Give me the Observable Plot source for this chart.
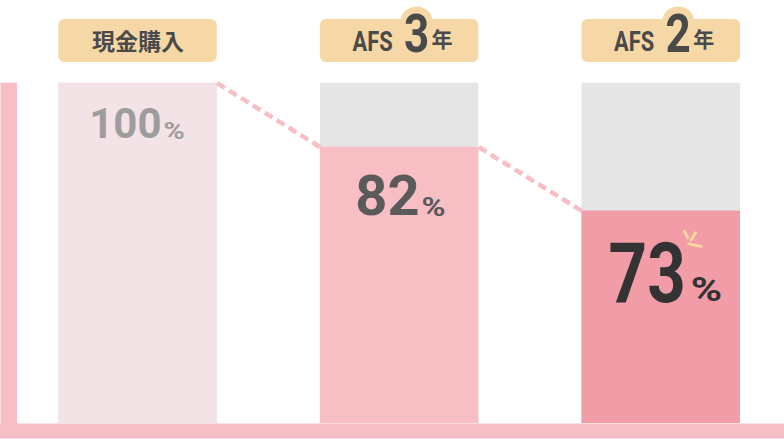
<!DOCTYPE html>
<html>
<head>
<meta charset="utf-8">
<script src="https://cdn.jsdelivr.net/npm/d3@7"></script>
<script src="https://cdn.jsdelivr.net/npm/@observablehq/plot@0.6"></script>
<style>
  html, body { margin: 0; padding: 0; background: #ffffff; }
  #chart svg { display: block; }
</style>
</head>
<body>
<div id="chart"></div>
<script>
// ---- data ----
const categories = ["現金購入", "AFS 3年", "AFS 2年"];
const labelPrefix = ["現金購入", "AFS", "AFS"];
const labelYears = ["", "3", "2"];
const labelUnit = ["", "年", "年"];
const values = [100, 82, 73];
const valueText = ["100", "82", "73"];
const fullValue = 100;

// ---- styles ----
const barColors = ["#f4e3e6", "#f7bec4", "#f29ca8"];
const textColors = ["#9d9d9d", "#5a5a5a", "#333333"];
const numSizes = [42, 56, 84];
const pctSizes = [23, 26, 34];
const numTopGap = [25, 28.3, 31.5];     // px from bar top to cap top
const baseGap = [55.3, 68.3, 90];       // px from bar top to baseline
const numEndDx = [23.5, 20, 24.5];
const pctStartDx = [25.5, 22, 29.5];
const headerFill = "#f5d8a6";
const headerText = "#4a4a4a";
const pink = "#f7bec5";
const sparkle = "#f8d9a0";

const W = 784, H = 440;
const hw = 0.3028;                 // half bar width in category units
const xmin = -0.5256, xmax = 2.4713;

const data = categories.map((c, i) => ({
  i, category: c, prefix: labelPrefix[i], years: labelYears[i], unit: labelUnit[i],
  value: values[i], text: valueText[i]
}));
const segments = data.slice(0, -1).map((d, k) => ({i: d.i, v: d.value, v2: data[k + 1].value}));

const lineShape = {draw(context, l) { context.moveTo(0, 0); context.lineTo(0, -l); }};

const marks = [
  // header boxes
  Plot.rect(data, {x1: d => d.i - hw, x2: d => d.i + hw, fill: headerFill, rx: 6, insetTop: 19, insetBottom: H - 62}),
  Plot.dot(data.filter(d => d.years), {x: "i", frameAnchor: "top", dx: 17, dy: 22.5, r: 16.5, fill: headerFill}),
  // header texts
  Plot.text(data.filter(d => !d.years), {x: "i", text: "prefix", frameAnchor: "top", dy: 49, lineAnchor: "bottom",
    fontFamily: "'Noto Sans CJK JP', sans-serif", fontWeight: 700, fontSize: 23, fill: headerText}),
  Plot.text(data.filter(d => d.years), {x: "i", text: "prefix", frameAnchor: "top", dx: 17 - 24, dy: 50, lineAnchor: "bottom",
    textAnchor: "end", fontFamily: "Roboto, sans-serif", fontWeight: 700, fontSize: 28, fill: headerText}),
  Plot.text(data.filter(d => d.years), {x: "i", text: "years", frameAnchor: "top", dx: 17, dy: 51, lineAnchor: "bottom",
    fontFamily: "Roboto, sans-serif", fontWeight: 700, fontSize: 53, fill: headerText}),
  Plot.text(data.filter(d => d.years), {x: "i", text: "unit", frameAnchor: "top", dx: 17 + 15, dy: 46, lineAnchor: "bottom",
    textAnchor: "start", fontFamily: "'Noto Sans CJK JP', sans-serif", fontWeight: 700, fontSize: 21, fill: headerText}),
  // grey full bars
  Plot.rectY(data, {x1: d => d.i - hw, x2: d => d.i + hw, y1: 0, y2: fullValue, fill: "#e5e5e5"}),
  // value bars
  Plot.rectY(data, {x1: d => d.i - hw, x2: d => d.i + hw, y1: 0, y2: "value", fill: d => barColors[d.i]}),
  // dashed connectors
  Plot.link(segments, {x1: d => d.i + hw, y1: "v", x2: d => d.i + 1 - hw, y2: "v2",
    stroke: pink, strokeWidth: 4.5, strokeDasharray: "9,5"}),
  // axes bars
  Plot.ruleY([0], {stroke: pink, strokeWidth: 15, dy: 7.5}),
  Plot.ruleX([xmin], {y1: fullValue, y2: 0, dx: 8.25, stroke: pink, strokeWidth: 16.5, insetBottom: -15}),
];

// value labels, one per bar (each has its own size)
data.forEach((d, k) => {
  marks.push(Plot.text([d], {x: "i", y: "value", text: "text", lineAnchor: "top", textAnchor: "end",
    dx: numEndDx[k], dy: numTopGap[k], fontFamily: "Roboto, sans-serif", fontWeight: 700,
    fontSize: numSizes[k], fill: textColors[k]}));
  marks.push(Plot.text([d], {x: "i", y: "value", text: () => "%", lineAnchor: "bottom", textAnchor: "start",
    dx: pctStartDx[k], dy: baseGap[k], fontFamily: "Roboto, sans-serif", fontWeight: 700,
    fontSize: pctSizes[k], fill: textColors[k]}));
});

// sparkle on the last bar
const last = [data[data.length - 1]];
[[26.5, 26.8, -27, 7.4], [30, 28.8, 32, 8.2], [27.5, 32.8, 102, 12.5]].forEach(([dx, dy, rot, len]) => {
  marks.push(Plot.vector(last, {x: "i", y: "value", dx, dy, rotate: rot, length: len, anchor: "start",
    shape: lineShape, stroke: sparkle, strokeWidth: 2.8, strokeLinecap: "round"}));
});

const chart = Plot.plot({
  width: W, height: H,
  marginLeft: 0, marginRight: 0, marginTop: 0, marginBottom: 0,
  style: {background: "#ffffff", overflow: "visible"},
  x: {type: "linear", domain: [xmin, xmax], axis: null},
  y: {type: "linear", domain: [0, 73, 82, 100], range: [423, 210.5, 146.7, 82.7], axis: null},
  color: {type: "identity"},
  marks
});
document.getElementById("chart").appendChild(chart);

// condense numerals horizontally to mimic the narrow typeface
const squeeze = {"AFS": 0.78, "3": 0.83, "2": 0.83, "73": 0.8, "%": 1.25};
d3.select(chart).selectAll("text").each(function () {
  const s = squeeze[this.textContent];
  if (!s) return;
  const t = this.getAttribute("transform");
  if (t) {
    this.setAttribute("transform", t + ` scale(${s},1)`);
  } else {
    const x = +(this.getAttribute("x") || 0), y = +(this.getAttribute("y") || 0);
    this.removeAttribute("x"); this.removeAttribute("y");
    this.setAttribute("transform", `translate(${x},${y}) scale(${s},1)`);
  }
});
</script>
</body>
</html>
